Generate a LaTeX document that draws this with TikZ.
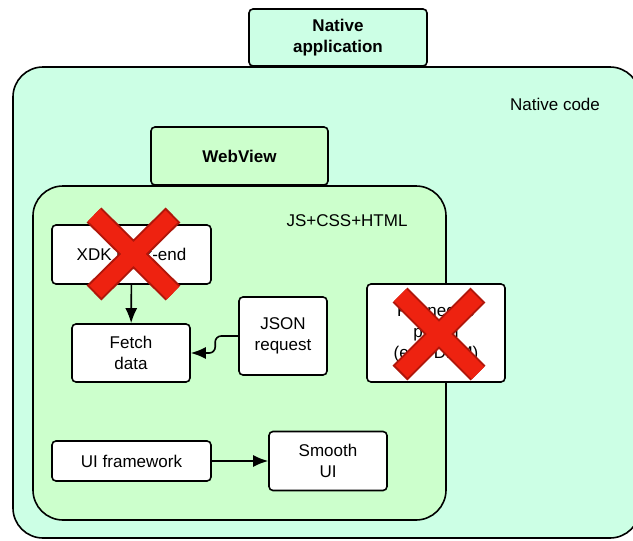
\documentclass[tikz,border=0pt]{standalone}
\usepackage{fontspec}
\setmainfont{Liberation Sans}
\usepackage{xcolor}
\usepackage{tikz}
\usetikzlibrary{arrows.meta,positioning}

\definecolor{nativemint}{RGB}{204,255,229}
\definecolor{webgreen}{RGB}{204,255,204}
\definecolor{crossred}{RGB}{238,34,16}
\definecolor{crossedge}{RGB}{176,22,10}

\begin{document}
\begin{tikzpicture}[
  x=1pt, y=-1pt,
  font=\fontsize{17}{21}\selectfont,
  block/.style={draw, line width=1.6pt, rounded corners=4pt, fill=white, align=center, inner sep=0pt},
  tab/.style={block, font=\fontsize{17}{21}\selectfont\bfseries},
  container/.style={draw, line width=1.6pt, rounded corners=30pt, inner sep=0pt},
  cross/.style={line width=21pt, draw=crossedge},
  crossface/.style={line width=17pt, draw=crossred, shorten <=2pt, shorten >=2pt},
  >={Latex[length=15pt,width=12pt]}
]
\clip (0,0) rectangle (633,541);
\fill[white] (0,0) rectangle (633,541);

% Containers
\node[container, fill=nativemint, minimum width=627pt, minimum height=471pt] (native) at (326.5,302.5) {};
\node[tab, fill=nativemint, minimum width=178pt, minimum height=57pt] (app) at (338,37.5) {Native\\application};
\node (nativelbl) at (555,104) {Native code};

\node[container, fill=webgreen, minimum width=413pt, minimum height=334pt] (web) at (239.5,353) {};
\node[tab, fill=webgreen, minimum width=177pt, minimum height=58pt] (webview) at (239.5,156) {WebView};
\node (weblbl) at (347,221) {JS+CSS+HTML};

% Nodes
\node[block, minimum width=159pt, minimum height=59pt] (xdk) at (131.5,254.5) {XDK back-end};
\node[block, minimum width=118pt, minimum height=58pt] (fetch) at (131,353) {Fetch\\data};
\node[block, minimum width=88pt, minimum height=78pt] (json) at (283,336) {JSON\\request};
\node[block, minimum width=138pt, minimum height=98pt] (plugin) at (436,333) {Phonegap\\plugin\\(e.g. DRM)};
\node[block, minimum width=159pt, minimum height=40pt] (uifw) at (131.5,461) {UI framework};
\node[block, minimum width=118pt, minimum height=59pt] (smooth) at (328,461) {Smooth\\UI};

% Connections
\draw[->, line width=1.6pt] (xdk) -- (fetch);
\draw[->, line width=1.6pt, rounded corners=6pt] (json.west) -- ++(-23,0) |- (fetch.east);
\draw[->, line width=1.6pt] (uifw) -- (smooth);

% Crossed-out parts
\draw[cross] (94,215) -- (173,293) (173,215) -- (94,293);
\draw[crossface] (94,215) -- (173,293) (173,215) -- (94,293);
\draw[cross] (400,295) -- (478,373) (478,295) -- (400,373);
\draw[crossface] (400,295) -- (478,373) (478,295) -- (400,373);

\end{tikzpicture}
\end{document}
